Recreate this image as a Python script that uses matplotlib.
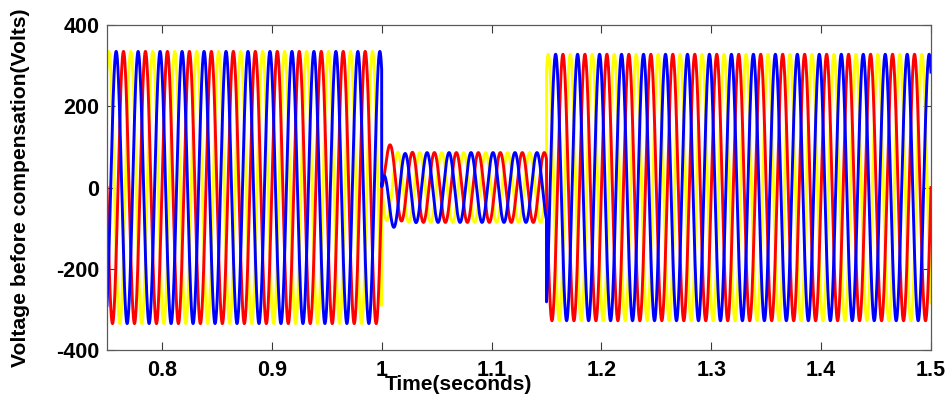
import numpy as np
import matplotlib
matplotlib.use("Agg")
import matplotlib.pyplot as plt

plt.rcParams["axes.unicode_minus"] = False

# three phase supply
freq = 50.0                      # Hz
seg_start = [0.75, 1.0, 1.15]    # s, normal / sag / normal
seg_end = [1.0, 1.15, 1.5]
seg_amp = [335.0, 86.0, 328.0]   # peak volts in each segment
seg_lag = [0.0, 0.003, 0.0]      # s, phase jump during the sag

phase_names = ["yellow", "red", "blue"]
phase_deg = [-120.0, 0.0, 120.0]
sag_offset = [9.0, 70.0, -78.0]  # decaying offset at sag start (V)
sag_decay = 0.006                # s
colors = ["#ffff00", "#ff0000", "#0000ff"]

xticks = [0.8, 0.9, 1.0, 1.1, 1.2, 1.3, 1.4, 1.5]
xtick_labels = ["0.8", "0.9", "1", "1.1", "1.2", "1.3", "1.4", "1.5"]
yticks = [-400, -200, 0, 200, 400]

t = np.arange(0.75, 1.5 + 1e-9, 0.00005)
w = 2 * np.pi * freq

fig = plt.figure(figsize=(9.5, 3.97), dpi=100)
ax = fig.add_axes([107 / 950, 47 / 397, 824 / 950, 325 / 397])

for k in range(3):
    v = np.zeros_like(t)
    ph = np.deg2rad(phase_deg[k])
    for s in range(3):
        m = (t >= seg_start[s]) & (t < seg_end[s])
        if s == 2:
            m = (t >= seg_start[s])
        v[m] = seg_amp[s] * np.sin(w * (t[m] - seg_lag[s]) + ph)
        if s == 1:
            v[m] += sag_offset[k] * np.exp(-(t[m] - seg_start[s]) / sag_decay)
    ax.plot(t, v, color=colors[k], lw=2.1)

ax.set_xlim(0.75, 1.5)
ax.set_ylim(-400, 400)
ax.set_xticks(xticks)
ax.set_xticklabels(xtick_labels)
ax.set_yticks(yticks)

for sp in ax.spines.values():
    sp.set_color("#5a5a5a")
    sp.set_linewidth(0.9)
ax.tick_params(direction="in", length=6, width=0.8, color="#3a3a3a",
               top=True, right=True, labelsize=15.5, pad=5.5)
ax.tick_params(axis="x", pad=7.5)
for lab in ax.get_xticklabels() + ax.get_yticklabels():
    lab.set_fontweight("bold")
    lab.set_family("Liberation Sans")

ax.set_ylabel("Voltage before compensation(Volts)", fontsize=15.2,
              fontweight="bold", family="Liberation Sans")
ax.yaxis.set_label_coords(-0.094, 0.5)
ax.set_xlabel("Time(seconds)", fontsize=15, fontweight="bold",
              family="Liberation Sans", va="top")
ax.xaxis.set_label_coords(0.4266, -0.078)

fig.savefig("out.png", dpi=100)
